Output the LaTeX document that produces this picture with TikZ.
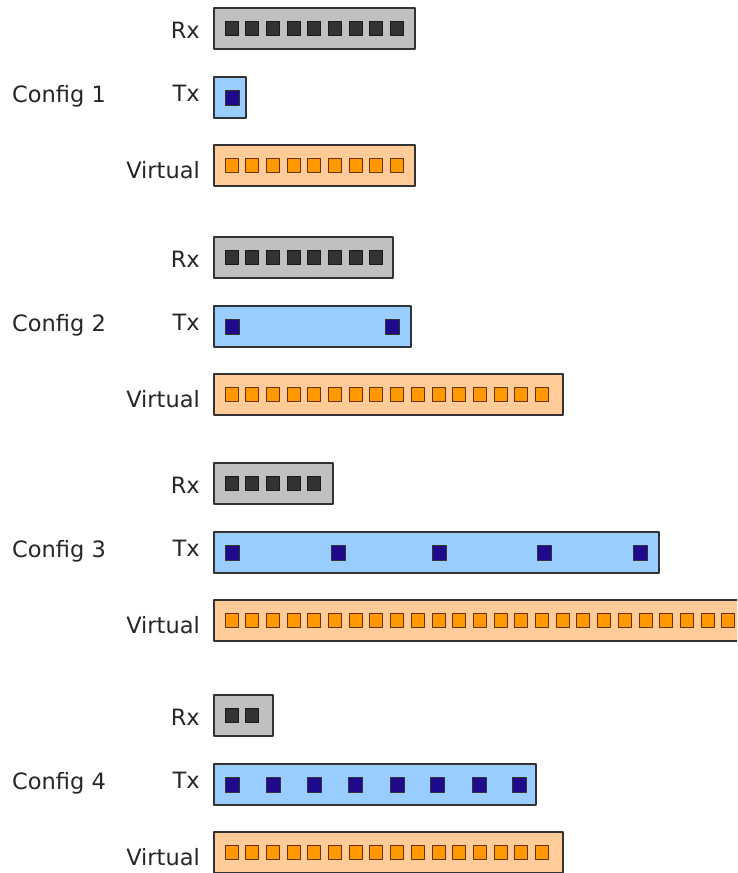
\documentclass[tikz,border=0pt]{standalone}
\usepackage{fontspec}
\setmainfont{DejaVu Sans}
\definecolor{boxline}{HTML}{333333}
\definecolor{rxfill}{HTML}{C0C0C0}
\definecolor{rxsqfill}{HTML}{333333}
\definecolor{txfill}{HTML}{99CCFF}
\definecolor{txsqfill}{HTML}{1E0A8A}
\definecolor{vrfill}{HTML}{FFCC99}
\definecolor{vrsqfill}{HTML}{FF9900}
\definecolor{vrsqline}{HTML}{663300}
\begin{document}
\begin{tikzpicture}[x=1pt, y=-1pt, line join=round,
  font=\fontsize{22.5}{26}\selectfont, text=black!85,
  box/.style={draw=boxline, line width=1.3pt},
  rxsq/.style={draw=black!90, fill=rxsqfill, line width=0.9pt},
  txsq/.style={draw=black!80, fill=txsqfill, line width=0.9pt},
  vrsq/.style={draw=vrsqline, fill=vrsqfill, line width=1pt},
  lbl/.style={inner sep=0pt, anchor=base east}]
\useasboundingbox (0,0) rectangle (737,873);
\clip (0,0) rectangle (737,873);
% config/top/rx squares/rx width/tx width/virtual squares/virtual width/tx square positions
\foreach \c/\t/\nr/\wr/\wt/\nv/\wv/\txs in {1/8/9/201/32/9/201/{225},
  2/237/8/179/197/16/349/{225,385},
  3/463/5/119/445/32/677/{225,331,432,537,633},
  4/695/2/59/322/16/349/{225,266,307,348,390,430,472,512}} {
  \node[lbl, anchor=base west] (cfg\c) at (12,\t+94) {Config \c};
  % Rx buffer
  \node[lbl] (rx\c) at (200,\t+30) {Rx};
  \path[box, fill=rxfill] (214,\t) rectangle ++(\wr,41);
  \foreach \k in {1,...,\nr} \draw[rxsq] ({225+(\k-1)*20.7},\t+13.5) rectangle ++(13,14);
  % Tx buffer
  \node[lbl] (tx\c) at (200,\t+93.5) {Tx};
  \path[box, fill=txfill] (214,\t+69) rectangle ++(\wt,41);
  \foreach \s in \txs \draw[txsq] (\s,\t+82) rectangle ++(14,15);
  % Virtual buffer
  \node[lbl] (vr\c) at (200,\t+170) {Virtual};
  \path[box, fill=vrfill] (214,\t+137) rectangle ++(\wv,41);
  \foreach \k in {1,...,\nv} \draw[vrsq] ({225+(\k-1)*20.7},\t+150.5) rectangle ++(13,14);
}
\end{tikzpicture}
\end{document}
